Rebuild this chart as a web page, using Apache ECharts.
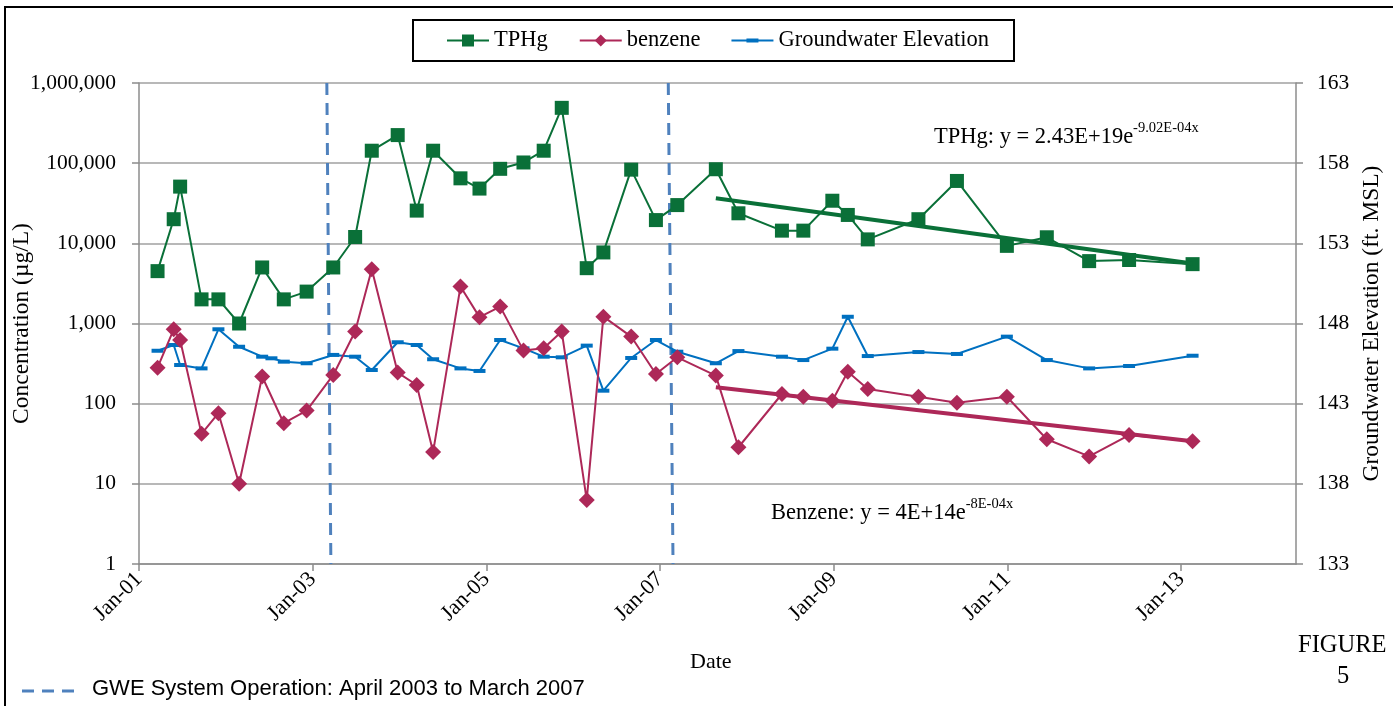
<!DOCTYPE html>
<html>
<head>
<meta charset="utf-8">
<script src="https://cdn.jsdelivr.net/npm/echarts@6/dist/echarts.min.js"></script>
<style>
html, body { margin: 0; padding: 0; background: #fff; }
#main { width: 1393px; height: 706px; }
</style>
</head>
<body>
<div id="main"></div>
<script>
// sampling dates (TPHg + benzene)
var sampleDates = [
	'2001-03-20', '2001-05-27', '2001-06-23', '2001-09-21', '2001-12-01',
	'2002-02-26', '2002-06-03', '2002-09-02', '2002-12-07', '2003-03-29',
	'2003-06-29', '2003-09-07', '2003-12-25', '2004-03-14', '2004-05-22',
	'2004-09-14', '2004-12-03', '2005-02-28', '2005-06-06', '2005-08-30',
	'2005-11-14', '2006-02-27', '2006-05-08', '2006-09-02', '2006-12-15',
	'2007-03-15', '2007-08-24', '2007-11-27', '2008-05-28', '2008-08-26',
	'2008-12-26', '2009-03-01', '2009-05-24', '2009-12-23', '2010-06-03',
	'2010-12-30', '2011-06-16', '2011-12-11', '2012-05-27', '2013-02-18'
];
var tphg = [
	4500, 20000, 51000, 2000, 2000, 1000, 5000, 2000, 2500, 5000,
	12000, 143000, 224000, 25600, 143000, 64700, 48200, 85000, 102000, 143000,
	490000, 4900, 7700, 83000, 19500, 30000, 84000, 23700, 14400, 14400,
	34000, 22600, 11200, 20000, 60000, 9300, 11900, 6000, 6200, 5500
];
var benzene = [
	281, 845, 622, 42, 76, 10, 218, 57, 82, 228,
	794, 4740, 244, 171, 25, 2890, 1200, 1625, 459, 491,
	794, 6.3, 1218, 687, 234, 379, 224, 28.6, 132, 122,
	109, 250, 152, 122, 103, 122, 36, 22, 40.6, 34
];
// groundwater has one extra gauging date (Jul 2002)
var gwDates = [
	'2001-03-20', '2001-05-27', '2001-06-23', '2001-09-21', '2001-12-01',
	'2002-02-26', '2002-06-03', '2002-07-12', '2002-09-02', '2002-12-07',
	'2003-03-29', '2003-06-29', '2003-09-07', '2003-12-25', '2004-03-14',
	'2004-05-22', '2004-09-14', '2004-12-03', '2005-02-28', '2005-06-06',
	'2005-08-30', '2005-11-14', '2006-02-27', '2006-05-08', '2006-09-02',
	'2006-12-15', '2007-03-15', '2007-08-24', '2007-11-27', '2008-05-28',
	'2008-08-26', '2008-12-26', '2009-03-01', '2009-05-24', '2009-12-23',
	'2010-06-03', '2010-12-30', '2011-06-16', '2011-12-11', '2012-05-27',
	'2013-02-18'
];
var gwElev = [
	146.30, 146.66, 145.41, 145.20, 147.64, 146.55, 145.93, 145.83, 145.62, 145.52,
	146.04, 145.93, 145.10, 146.83, 146.66, 145.77, 145.20, 145.04, 146.97, 146.45,
	145.93, 145.89, 146.62, 143.81, 145.85, 146.97, 146.24, 145.52, 146.28, 145.93,
	145.72, 146.43, 148.42, 145.97, 146.22, 146.10, 147.18, 145.72, 145.20, 145.35,
	145.99
];

// exponential trend lines (end points)
var trendDates = ['2007-08-24', '2013-02-18'];
var tphgTrend = [36500, 5600];
var benzTrend = [160, 34];

// GWE system operation markers (top / bottom of plot)
var gweStartDates = ['2003-03-02', '2003-03-19'];
var gweEndDates = ['2007-02-05', '2007-02-25'];

var xTickDates = ['2001-01-01', '2003-01-01', '2005-01-01', '2007-01-01', '2009-01-01', '2011-01-01', '2013-01-01'];
var xTickLabels = ['Jan-01', 'Jan-03', 'Jan-05', 'Jan-07', 'Jan-09', 'Jan-11', 'Jan-13'];
var rightTicks = [133, 138, 143, 148, 153, 158, 163];

var serif = "'Liberation Serif', 'DejaVu Serif', serif";
var green = '#0A7038', red = '#AD2858', blue = '#0070C0', dashBlue = '#4F81BD';

function ts(s) {
	var p = s.split('-');
	return Date.UTC(+p[0], +p[1] - 1, +p[2]);
}
function pairs(dates, vals) {
	var out = [];
	for (var i = 0; i < dates.length; i++) {
		out.push([ts(dates[i]), vals[i]]);
	}
	return out;
}
var xTicks = xTickDates.map(ts);

var myChart = echarts.init(document.getElementById('main'));

var option = {
	animation: false,
	grid: { left: 139, right: 97, top: 83, bottom: 142, containLabel: false, outerBoundsMode: 'none' },
	legend: {
		left: 413,
		top: 20,
		padding: [9, 25, 9, 33],
		itemGap: 31,
		itemWidth: 42,
		itemHeight: 15,
		borderColor: '#000',
		borderWidth: 2,
		textStyle: { fontFamily: serif, fontSize: 22.5, color: '#000' },
		data: [
			{ name: 'TPHg' },
			{ name: 'benzene' },
			{ name: 'Groundwater Elevation', icon: 'path://M0,0 L0.01,0 L0,0.01 Z M0,6.5 L42,6.5 L42,8.5 L0,8.5 Z M15,5.5 L27,5.5 L27,9.5 L15,9.5 Z M42,15 L41.99,15 L42,14.99 Z' }
		]
	},
	xAxis: {
		type: 'value',
		min: ts('2001-01-01'),
		max: ts('2014-04-29'),
		axisLine: { lineStyle: { color: '#8C8C8C', width: 1.5 } },
		axisTick: { show: true, length: 7, customValues: xTicks, lineStyle: { color: '#8C8C8C', width: 1.5 } },
		axisLabel: {
			customValues: xTicks,
			rotate: 45,
			margin: 12,
			fontFamily: serif,
			fontSize: 22,
			color: '#000',
			formatter: function (v) {
				var i = xTicks.indexOf(v);
				return i >= 0 ? xTickLabels[i] : '';
			}
		},
		splitLine: { show: false }
	},
	yAxis: [{
		type: 'log',
		logBase: 10,
		min: 1,
		max: 1000000,
		name: 'Concentration (µg/L)',
		nameLocation: 'middle',
		nameGap: 105,
		nameMoveOverlap: false,
		nameTextStyle: { fontFamily: serif, fontSize: 23.5, color: '#000' },
		axisLine: { show: true, lineStyle: { color: '#8C8C8C', width: 1.5 } },
		axisTick: { show: true, length: 7, lineStyle: { color: '#8C8C8C', width: 1.5 } },
		axisLabel: {
			margin: 23,
			fontFamily: serif,
			fontSize: 21.5,
			color: '#000',
			formatter: function (v) { return Number(v).toLocaleString('en-US'); }
		},
		splitLine: { show: true, lineStyle: { color: '#A0A0A0', width: 1.5 } }
	}, {
		type: 'value',
		min: 133,
		max: 163,
		position: 'right',
		name: 'Groundwater Elevation (ft. MSL)',
		nameLocation: 'middle',
		nameRotate: 90,
		nameGap: 63,
		nameTextStyle: { fontFamily: serif, fontSize: 23.5, color: '#000' },
		axisLine: { show: true, lineStyle: { color: '#8C8C8C', width: 1.5 } },
		axisTick: { show: true, length: 7, customValues: rightTicks, lineStyle: { color: '#8C8C8C', width: 1.5 } },
		axisLabel: { customValues: rightTicks, margin: 21, fontFamily: serif, fontSize: 21.5, color: '#000' },
		splitLine: { show: false }
	}],
	series: [{
		name: 'GWE start',
		type: 'line',
		yAxisIndex: 0,
		data: [[ts(gweStartDates[0]), 1000000], [ts(gweStartDates[1]), 1]],
		symbol: 'none',
		silent: true,
		lineStyle: { color: dashBlue, width: 3, type: [12, 8] },
		z: 1
	}, {
		name: 'GWE end',
		type: 'line',
		yAxisIndex: 0,
		data: [[ts(gweEndDates[0]), 1000000], [ts(gweEndDates[1]), 1]],
		symbol: 'none',
		silent: true,
		lineStyle: { color: dashBlue, width: 3, type: [12, 8] },
		z: 1
	}, {
		name: 'Groundwater Elevation',
		type: 'line',
		yAxisIndex: 1,
		data: pairs(gwDates, gwElev),
		symbol: 'rect',
		symbolSize: [12, 4],
		itemStyle: { color: blue },
		lineStyle: { color: blue, width: 2 },
		z: 2
	}, {
		name: 'benzene',
		type: 'line',
		yAxisIndex: 0,
		data: pairs(sampleDates, benzene),
		symbol: 'diamond',
		symbolSize: 16,
		itemStyle: { color: red },
		lineStyle: { color: red, width: 2 },
		z: 3
	}, {
		name: 'TPHg',
		type: 'line',
		yAxisIndex: 0,
		data: pairs(sampleDates, tphg),
		symbol: 'rect',
		symbolSize: 14,
		itemStyle: { color: green },
		lineStyle: { color: green, width: 2 },
		z: 4
	}, {
		name: 'TPHg trend',
		type: 'line',
		yAxisIndex: 0,
		data: pairs(trendDates, tphgTrend),
		symbol: 'none',
		silent: true,
		lineStyle: { color: green, width: 4 },
		z: 5
	}, {
		name: 'benzene trend',
		type: 'line',
		yAxisIndex: 0,
		data: pairs(trendDates, benzTrend),
		symbol: 'none',
		silent: true,
		lineStyle: { color: red, width: 4 },
		z: 5
	}],
	graphic: [{
		type: 'rect',
		shape: { x: 5, y: 7, width: 1420, height: 740 },
		style: { fill: 'none', stroke: '#000', lineWidth: 2 },
		silent: true
	}, {
		type: 'text',
		left: 934,
		top: 121,
		style: {
			text: '{a|TPHg: y = 2.43E+19e}{s|-9.02E-04x}',
			rich: {
				a: { fontFamily: serif, fontSize: 22.5, fill: '#000', lineHeight: 28, verticalAlign: 'bottom' },
				s: { fontFamily: serif, fontSize: 14.5, fill: '#000', lineHeight: 28, verticalAlign: 'top' }
			}
		}
	}, {
		type: 'text',
		left: 771,
		top: 497,
		style: {
			text: '{a|Benzene: y = 4E+14e}{s|-8E-04x}',
			rich: {
				a: { fontFamily: serif, fontSize: 22.5, fill: '#000', lineHeight: 28, verticalAlign: 'bottom' },
				s: { fontFamily: serif, fontSize: 14.5, fill: '#000', lineHeight: 28, verticalAlign: 'top' }
			}
		}
	}, {
		type: 'text',
		left: 690,
		top: 651,
		style: { text: 'Date', fontFamily: serif, fontSize: 22, fill: '#000' }
	}, {
		type: 'text',
		left: 1298,
		top: 633,
		style: { text: 'FIGURE', fontFamily: serif, fontSize: 24.5, fill: '#000' }
	}, {
		type: 'text',
		left: 1337,
		top: 664,
		style: { text: '5', fontFamily: serif, fontSize: 24.5, fill: '#000' }
	}, {
		type: 'line',
		shape: { x1: 22, y1: 691, x2: 82, y2: 691 },
		style: { stroke: dashBlue, lineWidth: 3, lineDash: [12, 8] }
	}, {
		type: 'text',
		left: 92,
		top: 678,
		style: { text: 'GWE System Operation: April 2003 to March 2007', fontFamily: "'Liberation Sans', Arial, sans-serif", fontSize: 22, fill: '#000' }
	}]
};

myChart.setOption(option);
</script>
</body>
</html>
